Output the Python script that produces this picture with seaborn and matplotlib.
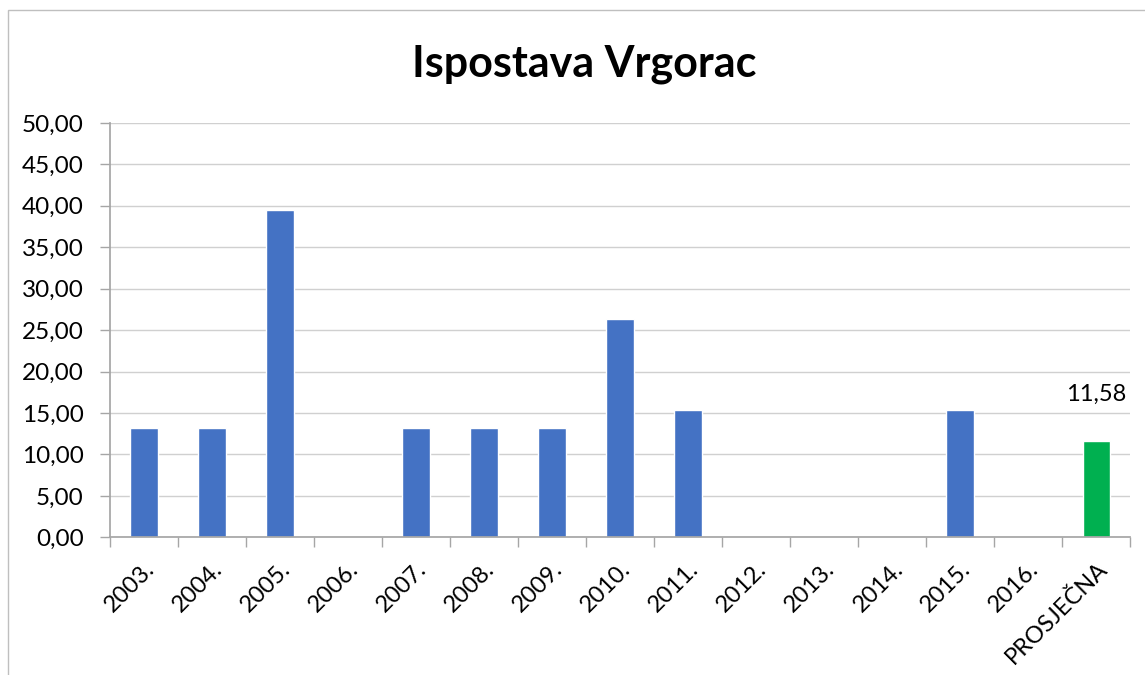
import matplotlib
matplotlib.use("Agg")
import matplotlib.pyplot as plt
import seaborn as sns
import pandas as pd
from matplotlib.patches import Rectangle

categories = ["2003.", "2004.", "2005.", "2006.", "2007.", "2008.", "2009.", "2010.",
              "2011.", "2012.", "2013.", "2014.", "2015.", "2016.", "PROSJEČNA"]
values = [13.16, 13.16, 39.47, 0.0, 13.16, 13.16, 13.16, 26.32,
          15.35, 0.0, 0.0, 0.0, 15.35, 0.0, 11.58]
kinds = ["godina"] * 14 + ["prosjek"]
avg_label = "11,58"
y_ticks = [0, 5, 10, 15, 20, 25, 30, 35, 40, 45, 50]

sns.set_theme(style="white")
plt.rcParams['font.family'] = ['Lato', 'DejaVu Sans']
plt.rcParams['text.color'] = 'black'
plt.rcParams['xtick.color'] = 'black'
plt.rcParams['ytick.color'] = 'black'

df = pd.DataFrame({"cat": categories, "val": values, "kind": kinds})

fig = plt.figure(figsize=(11.45, 6.75), dpi=100)
ax = fig.add_axes([0.096, 0.204, 0.891, 0.614])

sns.barplot(data=df, x="cat", y="val", hue="kind",
            palette={"godina": "#4472C4", "prosjek": "#00B050"},
            width=0.4, dodge=False, legend=False, ax=ax, saturation=1)

ax.set_ylim(0, 50)
ax.set_xlim(-0.5, len(categories) - 0.5)
ax.set_yticks(y_ticks)
ax.set_yticklabels([f"{v:.2f}".replace(".", ",") for v in y_ticks], fontsize=17.5)
ax.set_xticks(range(len(categories)))
ax.set_xticklabels(categories, rotation=45, ha="right", rotation_mode="anchor", fontsize=17)
ax.tick_params(axis="x", which="major", length=0, pad=15)
ax.tick_params(axis="y", length=7, color="#A6A6A6", width=1, left=True, pad=12)
ax.set_xticks([i - 0.5 for i in range(len(categories) + 1)], minor=True)
ax.tick_params(axis="x", which="minor", length=7, color="#A6A6A6", width=1, bottom=True)

ax.yaxis.grid(True, color="#D0D0D0", linewidth=1)
ax.set_axisbelow(True)
for s in ["top", "right"]:
    ax.spines[s].set_visible(False)
ax.spines["left"].set_color("#A6A6A6")
ax.spines["bottom"].set_color("#A6A6A6")
ax.set_xlabel("")
ax.set_ylabel("")

ax.annotate(avg_label, xy=(len(categories) - 1, values[-1]), xytext=(0, 26),
            textcoords="offset points", ha="center", va="bottom", fontsize=17)

fig.text(0.51, 0.905, "Ispostava Vrgorac", ha="center", va="center",
         fontsize=31, fontweight="bold")

fig.patches.append(Rectangle((0.007, -0.01), 1.0, 0.995, transform=fig.transFigure,
                             fill=False, edgecolor="#BFBFBF", linewidth=1))

fig.savefig("out.png", dpi=100)
